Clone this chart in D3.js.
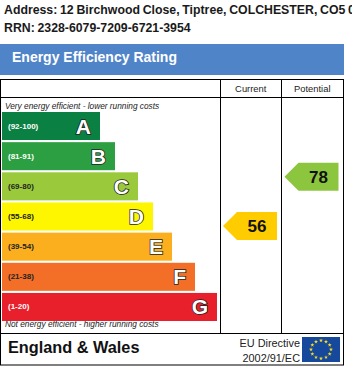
<!DOCTYPE html>
<html>
<head>
<meta charset="utf-8">
<script src="https://cdnjs.cloudflare.com/ajax/libs/d3/7.8.5/d3.min.js"></script>
<style>
    html, body { margin: 0; padding: 0; background: #fff; overflow: hidden; }
    text { font-family: "Liberation Sans", Arial, sans-serif; }
</style>
</head>
<body>
<div id="chart"></div>
<script>
const addressLines = ['Address: 12 Birchwood Close, Tiptree, COLCHESTER, CO5 0J', 'RRN: 2328-6079-7209-6721-3954'];
const ratings = ['A', 'B', 'C', 'D', 'E', 'F', 'G'];
const ranges = ['(92-100)', '(81-91)', '(69-80)', '(55-68)', '(39-54)', '(21-38)', '(1-20)'];
const barLengths = [98, 113, 136, 151, 170, 193, 215];
const barColors = ['#0a8043', '#2c9f42', '#9aca3c', '#fdf600', '#fcaf1e', '#f36f27', '#e8202c'];
const rangeColors = ['#fff', '#fff', '#222', '#222', '#222', '#222', '#fff'];
const columns = ['Current', 'Potential'];
const scores = [56, 78];
const scoreBands = ['D', 'C'];
const scoreColors = ['#ffcc00', '#8cc63f'];

const width = 352, height = 366;

const svg = d3.select('#chart').append('svg')
    .attr('width', width)
    .attr('height', height)
    .style('display', 'block');

// Address block, the first line runs off the page
svg.selectAll('.address')
    .data(addressLines)
    .join('text')
    .attr('class', 'address')
    .attr('x', 4)
    .attr('y', (d, i) => 14 + i * 17.5)
    .attr('font-size', '12.3px')
    .attr('font-weight', 'bold')
    .attr('word-spacing', '-0.7px')
    .attr('fill', '#1a1a1a')
    .text(d => d);

// Title band
svg.append('rect')
    .attr('x', 0).attr('y', 44)
    .attr('width', 344).attr('height', 31)
    .attr('fill', '#4f84c9');

svg.append('text')
    .attr('x', 12).attr('y', 62)
    .attr('font-size', '14px')
    .attr('font-weight', 'bold')
    .attr('fill', '#fff')
    .text('Energy Efficiency Rating');

// Table frame
const frame = svg.append('g')
    .attr('fill', 'none')
    .attr('stroke', '#000')
    .attr('stroke-width', 1);

frame.append('rect').attr('x', 0.5).attr('y', 79.5).attr('width', 343).attr('height', 285.5);
[[0, 97.5, 343, 97.5], [0, 333.5, 343, 333.5], [220.5, 79, 220.5, 333], [281.5, 79, 281.5, 333]]
    .forEach(l => frame.append('line')
        .attr('x1', l[0]).attr('y1', l[1]).attr('x2', l[2]).attr('y2', l[3]));

// Column headings
const columnScale = d3.scaleBand().domain(columns).range([220, 343]);

svg.selectAll('.column')
    .data(columns)
    .join('text')
    .attr('class', 'column')
    .attr('x', d => columnScale(d) + columnScale.bandwidth() / 2)
    .attr('y', 92)
    .attr('text-anchor', 'middle')
    .attr('font-size', '9.4px')
    .attr('fill', '#222')
    .text(d => d);

svg.append('text')
    .attr('x', 5).attr('y', 109)
    .attr('font-size', '8.3px')
    .attr('font-style', 'italic')
    .attr('fill', '#222')
    .text('Very energy efficient - lower running costs');

svg.append('text')
    .attr('x', 5).attr('y', 327)
    .attr('font-size', '8.3px')
    .attr('font-style', 'italic')
    .attr('fill', '#222')
    .text('Not energy efficient - higher running costs');

// Rating bars
const yScale = d3.scaleBand()
    .domain(ratings)
    .range([112, 321])
    .paddingInner(0.07);

const xScale = d3.scaleLinear()
    .domain([0, d3.max(barLengths)])
    .range([2, 217]);

const bars = svg.selectAll('.bar')
    .data(ratings)
    .join('g')
    .attr('class', 'bar')
    .attr('transform', d => `translate(0,${yScale(d)})`);

bars.append('rect')
    .attr('x', xScale(0))
    .attr('width', (d, i) => xScale(barLengths[i]) - xScale(0))
    .attr('height', yScale.bandwidth())
    .attr('fill', (d, i) => barColors[i]);

bars.append('text')
    .attr('x', 8)
    .attr('y', yScale.bandwidth() / 2 + 2.5)
    .attr('font-size', '8px')
    .attr('font-weight', 'bold')
    .attr('fill', (d, i) => rangeColors[i])
    .text((d, i) => ranges[i]);

bars.append('text')
    .attr('x', (d, i) => xScale(barLengths[i]) - 9)
    .attr('y', yScale.bandwidth() / 2 + 7.5)
    .attr('text-anchor', 'end')
    .attr('font-size', '21px')
    .attr('font-weight', 'bold')
    .attr('fill', '#fff')
    .attr('stroke', '#222')
    .attr('stroke-width', 1.6)
    .attr('paint-order', 'stroke')
    .text(d => d);

// Score arrows sit a little above the middle of their band
const arrowHeight = 28, arrowTip = 14;

const arrows = svg.selectAll('.arrow')
    .data(scores)
    .join('g')
    .attr('class', 'arrow')
    .attr('transform', (d, i) => `translate(${columnScale(columns[i]) + 3},${yScale(scoreBands[i]) + yScale.bandwidth() / 2 + (i === 0 ? 9.5 : -9.5)})`);

arrows.append('path')
    .attr('d', d3.line()([
        [0, 0],
        [arrowTip, -arrowHeight / 2],
        [54, -arrowHeight / 2],
        [54, arrowHeight / 2],
        [arrowTip, arrowHeight / 2]
    ]) + 'Z')
    .attr('fill', (d, i) => scoreColors[i]);

arrows.append('text')
    .attr('x', 34)
    .attr('y', 6)
    .attr('text-anchor', 'middle')
    .attr('font-size', '17px')
    .attr('font-weight', 'bold')
    .attr('fill', '#111')
    .text(d => d);

// Footer
svg.append('text')
    .attr('x', 8).attr('y', 353)
    .attr('font-size', '16.3px')
    .attr('font-weight', 'bold')
    .attr('fill', '#111')
    .text('England & Wales');

svg.selectAll('.directive')
    .data(['EU Directive', '2002/91/EC'])
    .join('text')
    .attr('class', 'directive')
    .attr('x', 300)
    .attr('y', (d, i) => 347 + i * 14.5)
    .attr('text-anchor', 'end')
    .attr('font-size', '10.9px')
    .attr('fill', '#222')
    .text(d => d);

// EU flag with its ring of twelve stars
const flag = svg.append('g').attr('transform', 'translate(302,337)');

flag.append('rect')
    .attr('width', 38).attr('height', 25)
    .attr('fill', '#16489c');

const star = d3.symbol().type(d3.symbolStar).size(5);

flag.selectAll('path')
    .data(d3.range(12))
    .join('path')
    .attr('d', star)
    .attr('fill', '#ffe21a')
    .attr('transform', d => {
        const a = d * Math.PI / 6;
        return `translate(${19 + 10 * Math.sin(a)},${12.5 - 9 * Math.cos(a)})`;
    });
</script>
</body>
</html>
